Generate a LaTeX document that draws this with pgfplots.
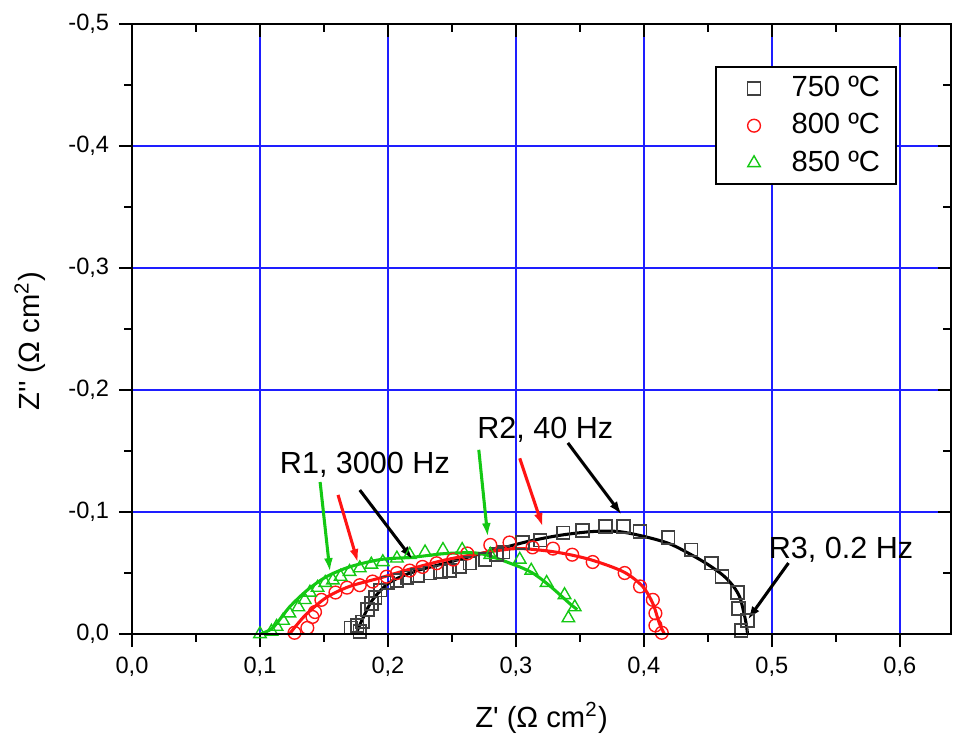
\documentclass[border=0pt]{standalone}
\usepackage{fontspec}
\setmainfont{Liberation Sans}
\newfontfamily\plain{Liberation Sans}
\usepackage{pgfplots}
\pgfplotsset{compat=1.18}
\usetikzlibrary{arrows.meta}
\definecolor{ogreen}{RGB}{20,200,20}
\definecolor{ored}{RGB}{255,20,20}
\definecolor{gridblue}{RGB}{30,30,255}
\begin{document}
\begin{tikzpicture}
\pgfplotsset{
  common/.style={
    scale only axis, width=294.84pt, height=219.6pt,
    xmin=0, xmax=0.64, ymin=-0.5, ymax=0, y dir=reverse,
    xtick={0,0.1,0.2,0.3,0.4,0.5,0.6},
    ytick={-0.5,-0.4,-0.3,-0.2,-0.1,0},
    minor x tick num=1, minor y tick num=1,
    major tick length=4.7pt, minor tick length=2.8pt,
    axis line style={line width=0.8pt},
    tick style={black, line width=0.8pt},
  },
  limg/.style={legend image code/.code={\path[draw=none,fill=none] (0pt,0pt) -- (21.5pt,0pt); \draw[##1, only marks] plot coordinates {(10pt,0pt)};}},
}
\begin{axis}[common,
  tick pos=left, tick align=outside,
  grid=major, major grid style={gridblue, line width=0.5pt},
  ticklabel style={font=\fontsize{8.5}{10}\selectfont},
  /pgf/number format/use comma, /pgf/number format/fixed,
  /pgf/number format/fixed zerofill, /pgf/number format/precision=1,
  /pgf/number format/assume math mode=true,
  xlabel={\plain Z' (Ω cm\textsuperscript{2})},
  ylabel={\plain Z'' (Ω cm\textsuperscript{2})},
  label style={font=\fontsize{10.5}{12}\selectfont},
  xlabel style={at={(axis description cs:0.5,-0.1377)}, anchor=center},
  ylabel style={at={(axis description cs:-0.1245,0.48)}, anchor=center, rotate=0},
  legend style={at={(axis description cs:0.934,0.931)}, anchor=north east, draw=black, line width=0.8pt,
    font=\fontsize{10.5}{12}\selectfont, row sep=0.6pt, inner xsep=3.7pt, inner ysep=1.2pt},
  legend cell align=left,
]
\addplot[only marks, mark=square, mark size=2.3pt, draw=black!75, mark options={line width=0.6pt}, limg] coordinates {
(0.171,-0.005)(0.176,-0.007)(0.178,-0.002)(0.180,-0.010)(0.184,-0.020)(0.187,-0.025)(0.190,-0.030)(0.194,-0.036)(0.200,-0.042)(0.207,-0.044)(0.215,-0.046)(0.223,-0.048)(0.233,-0.050)(0.241,-0.051)(0.248,-0.052)(0.256,-0.055)(0.264,-0.058)(0.276,-0.061)(0.285,-0.065)(0.290,-0.067)(0.305,-0.075)(0.319,-0.077)(0.337,-0.083)(0.352,-0.085)(0.370,-0.088)(0.384,-0.088)(0.397,-0.084)(0.419,-0.079)(0.437,-0.069)(0.453,-0.058)(0.461,-0.047)(0.473,-0.034)(0.474,-0.021)(0.481,-0.011)(0.476,-0.003)
};
\addlegendentry{750 ºC}
\addplot[only marks, mark=o, mark size=2.3pt, draw=ored, mark options={line width=0.5pt}, limg] coordinates {
(0.127,-0.001)(0.137,-0.005)(0.141,-0.014)(0.143,-0.018)(0.148,-0.028)(0.159,-0.034)(0.168,-0.038)(0.178,-0.040)(0.188,-0.043)(0.199,-0.047)(0.207,-0.050)(0.217,-0.052)(0.227,-0.055)(0.238,-0.058)(0.251,-0.061)(0.262,-0.066)(0.280,-0.073)(0.295,-0.075)(0.313,-0.071)(0.329,-0.070)(0.344,-0.065)(0.360,-0.059)(0.385,-0.050)(0.397,-0.039)(0.407,-0.028)(0.409,-0.017)(0.409,-0.007)(0.414,-0.001)
};
\addlegendentry{800 ºC}
\addplot[only marks, mark=triangle, mark size=2.6pt, draw=ogreen, mark options={line width=0.5pt}, limg] coordinates {
(0.100,0)(0.109,-0.002)(0.113,-0.006)(0.118,-0.011)(0.123,-0.017)(0.130,-0.022)(0.135,-0.028)(0.139,-0.034)(0.145,-0.038)(0.151,-0.042)(0.157,-0.044)(0.163,-0.047)(0.170,-0.051)(0.178,-0.054)(0.187,-0.057)(0.196,-0.059)(0.207,-0.062)(0.217,-0.065)(0.229,-0.067)(0.243,-0.069)(0.258,-0.069)(0.280,-0.065)(0.303,-0.061)(0.312,-0.052)(0.324,-0.042)(0.338,-0.032)(0.346,-0.022)(0.341,-0.013)
};
\addlegendentry{850 ºC}
% fitted lines
\addplot[black, line width=1.1pt, smooth, tension=0.5, forget plot] coordinates {
(0.175,0.000)(0.180,-0.012)(0.188,-0.028)(0.201,-0.042)(0.220,-0.051)(0.241,-0.057)(0.266,-0.064)(0.288,-0.070)(0.310,-0.076)(0.335,-0.081)(0.360,-0.084)(0.380,-0.084)(0.400,-0.080)(0.420,-0.074)(0.437,-0.065)(0.450,-0.057)(0.462,-0.048)(0.470,-0.039)(0.475,-0.030)(0.478,-0.018)(0.480,-0.008)(0.481,0.000)
};
\addplot[ored, line width=1.1pt, smooth, tension=0.5, forget plot] coordinates {
(0.123,0)(0.130,-0.009)(0.137,-0.017)(0.152,-0.030)(0.170,-0.039)(0.194,-0.046)(0.220,-0.054)(0.246,-0.061)(0.272,-0.066)(0.290,-0.069)(0.305,-0.070)(0.332,-0.067)(0.358,-0.061)(0.384,-0.051)(0.399,-0.039)(0.407,-0.025)(0.412,-0.009)(0.416,0)
};
\addplot[ogreen, line width=1.1pt, smooth, tension=0.5, forget plot] coordinates {
(0.100,0)(0.110,-0.005)(0.123,-0.022)(0.137,-0.036)(0.152,-0.047)(0.170,-0.055)(0.194,-0.061)(0.220,-0.063)(0.246,-0.066)(0.272,-0.066)(0.298,-0.057)(0.313,-0.050)(0.327,-0.039)(0.342,-0.025)(0.348,-0.020)
};
% annotations
\draw[ogreen, line width=1.1pt, -{Latex[length=5pt,width=3.2pt]}] (axis cs:0.147,-0.1246) -- (axis cs:0.1547,-0.0508);
\draw[ored, line width=1.1pt, -{Latex[length=5pt,width=3.2pt]}] (axis cs:0.161,-0.114) -- (axis cs:0.1766,-0.0582);
\draw[black, line width=1.1pt, -{Latex[length=5pt,width=3.2pt]}] (axis cs:0.178,-0.118) -- (axis cs:0.2195,-0.0607);
\draw[ogreen, line width=1.1pt, -{Latex[length=5pt,width=3.2pt]}] (axis cs:0.271,-0.151) -- (axis cs:0.278,-0.0795);
\draw[ored, line width=1.1pt, -{Latex[length=5pt,width=3.2pt]}] (axis cs:0.303,-0.144) -- (axis cs:0.321,-0.0877);
\draw[black, line width=1.1pt, -{Latex[length=5pt,width=3.2pt]}] (axis cs:0.3406,-0.1566) -- (axis cs:0.3828,-0.0975);
\draw[black, line width=1.1pt, -{Latex[length=5pt,width=3.2pt]}] (axis cs:0.513,-0.0582) -- (axis cs:0.481,-0.0115);
\node[font=\fontsize{11}{13}\selectfont] at (axis cs:0.182,-0.139) {R1, 3000 Hz};
\node[font=\fontsize{11}{13}\selectfont] at (axis cs:0.323,-0.167) {R2, 40 Hz};
\node[font=\fontsize{11}{13}\selectfont] at (axis cs:0.554,-0.069) {R3, 0.2 Hz};
\end{axis}
\begin{axis}[common,
  xtick pos=right, ytick pos=right, tick align=inside,
  xticklabels={}, yticklabels={},
]
\end{axis}
\pgfresetboundingbox
\path ([shift={(-47.52pt,-42.84pt)}]current axis.south west) rectangle ([shift={(0.72pt,8.64pt)}]current axis.north east);
\end{tikzpicture}
\end{document}
